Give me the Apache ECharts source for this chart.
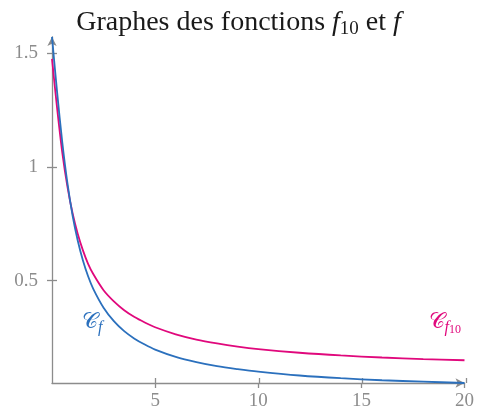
<!DOCTYPE html>
<html>
<head>
<meta charset="utf-8">
<script src="https://cdn.jsdelivr.net/npm/echarts@6/dist/echarts.min.js"></script>
<style>html,body{margin:0;padding:0;background:#fff;}#c{width:477px;height:412px;}</style>
</head>
<body>
<div id="c"></div>
<script>
const xs = [0, 0.25, 0.5, 0.75, 1, 1.25, 1.5, 1.75, 2, 2.5, 3, 3.5, 4, 4.5, 5, 6, 7, 8, 9, 10, 12, 14, 16, 18, 20];
const fVals = [1.571, 1.326, 1.107, 0.927, 0.785, 0.675, 0.588, 0.519, 0.464, 0.381, 0.322, 0.278, 0.245, 0.219, 0.197, 0.165, 0.142, 0.124, 0.111, 0.100, 0.083, 0.071, 0.062, 0.056, 0.050];
const f10Vals = [1.475, 1.256, 1.062, 0.912, 0.795, 0.705, 0.633, 0.574, 0.529, 0.458, 0.409, 0.370, 0.340, 0.316, 0.295, 0.264, 0.241, 0.224, 0.210, 0.199, 0.183, 0.171, 0.162, 0.155, 0.150];
const xTicks = [5, 10, 15, 20];
const yTicks = [0.5, 1, 1.5];
const labelF = {x: 1.45, y: 0.315};
const labelF10 = {x: 18.26, y: 0.315};

const BLUE = '#2b70bd';
const MAG = '#e0087c';
const GRAY = '#8c8c8c';
const SERIF = '"Liberation Serif", "DejaVu Serif", serif';

const chart = echarts.init(document.getElementById('c'), null, {renderer: 'canvas'});
const pairs = (ys) => xs.map((x, i) => [x, ys[i]]);

function curveLabel(pt, color, sub) {
  return {
    symbol: 'circle', symbolSize: 1,
    itemStyle: {color: 'rgba(0,0,0,0)'},
    data: [{coord: [pt.x, pt.y]}],
    label: {
      show: true, position: 'inside', align: 'left', verticalAlign: 'middle',
      formatter: sub,
      rich: {
        c: {fontFamily: '"DejaVu Serif", serif', fontSize: 22, color: color, lineHeight: 26, verticalAlign: 'middle'},
        s: {fontFamily: SERIF, fontStyle: 'italic', fontSize: 16, color: color, lineHeight: 8, verticalAlign: 'bottom'},
        t: {fontFamily: SERIF, fontSize: 12, color: color, lineHeight: 2, verticalAlign: 'bottom'}
      }
    }
  };
}

const axisLineStyle = {color: GRAY, width: 1.3};
const hidden = 'rgba(0,0,0,0)';
const gridBox = {left: 52, right: 11, top: 37, bottom: 29, containLabel: false};

chart.setOption({
  animation: false,
  title: {
    text: '{n|Graphes des fonctions }{i|f}{s|10}{n| et }{i|f}',
    left: 'center', top: 2,
    textStyle: {
      fontWeight: 'normal',
      rich: {
        n: {fontFamily: SERIF, fontWeight: 'normal', fontSize: 28, color: '#1a1a1a', lineHeight: 32, verticalAlign: 'middle'},
        i: {fontFamily: SERIF, fontWeight: 'normal', fontStyle: 'italic', fontSize: 28, color: '#1a1a1a', lineHeight: 32, verticalAlign: 'middle'},
        s: {fontFamily: SERIF, fontWeight: 'normal', fontSize: 19, color: '#1a1a1a', lineHeight: 12, verticalAlign: 'bottom'}
      }
    }
  },
  grid: [Object.assign({}, gridBox), Object.assign({}, gridBox)],
  xAxis: [{
    type: 'value', min: 0, max: 20, gridIndex: 0,
    axisLine: {show: true, onZero: false, lineStyle: axisLineStyle, symbol: ['none', 'arrow'], symbolSize: [7, 9]},
    axisTick: {show: true, inside: false, length: 5, lineStyle: axisLineStyle, customValues: xTicks},
    axisLabel: {show: true, margin: 9, color: GRAY, fontFamily: SERIF, fontSize: 19, customValues: xTicks},
    splitLine: {show: false}
  }, {
    type: 'value', min: 0, max: 20, gridIndex: 1,
    axisLine: {show: true, onZero: false, lineStyle: {color: hidden}},
    axisTick: {show: true, inside: true, length: 5, lineStyle: {color: GRAY, width: 1.3}, customValues: xTicks},
    axisLabel: {show: false},
    splitLine: {show: false}
  }],
  yAxis: [{
    type: 'value', min: 0.05, max: 1.5708, gridIndex: 0,
    axisLine: {show: true, onZero: false, lineStyle: axisLineStyle, symbol: ['none', 'arrow'], symbolSize: [7, 9]},
    axisTick: {show: true, inside: false, length: 5, lineStyle: axisLineStyle, customValues: yTicks},
    axisLabel: {show: true, margin: 14, color: GRAY, fontFamily: SERIF, fontSize: 19, customValues: yTicks},
    splitLine: {show: false}
  }, {
    type: 'value', min: 0.05, max: 1.5708, gridIndex: 1,
    axisLine: {show: true, onZero: false, lineStyle: {color: hidden}},
    axisTick: {show: true, inside: true, length: 5, lineStyle: {color: GRAY, width: 1.3}, customValues: yTicks},
    axisLabel: {show: false},
    splitLine: {show: false}
  }],
  series: [{
    name: 'f10', type: 'line', data: pairs(f10Vals), smooth: 0.3, showSymbol: false,
    lineStyle: {color: MAG, width: 1.8}, clip: false,
    markPoint: curveLabel(labelF10, MAG, '{c|𝒞}{s|f}{t|10}')
  }, {
    name: 'f', type: 'line', data: pairs(fVals), smooth: 0.3, showSymbol: false,
    lineStyle: {color: BLUE, width: 1.8}, clip: false,
    markPoint: curveLabel(labelF, BLUE, '{c|𝒞}{s|f}')
  }, {
    name: 'tickHelper', type: 'line', xAxisIndex: 1, yAxisIndex: 1,
    data: pairs(fVals), showSymbol: false, silent: true,
    lineStyle: {opacity: 0, width: 0}, z: 0
  }]
});
</script>
</body>
</html>
